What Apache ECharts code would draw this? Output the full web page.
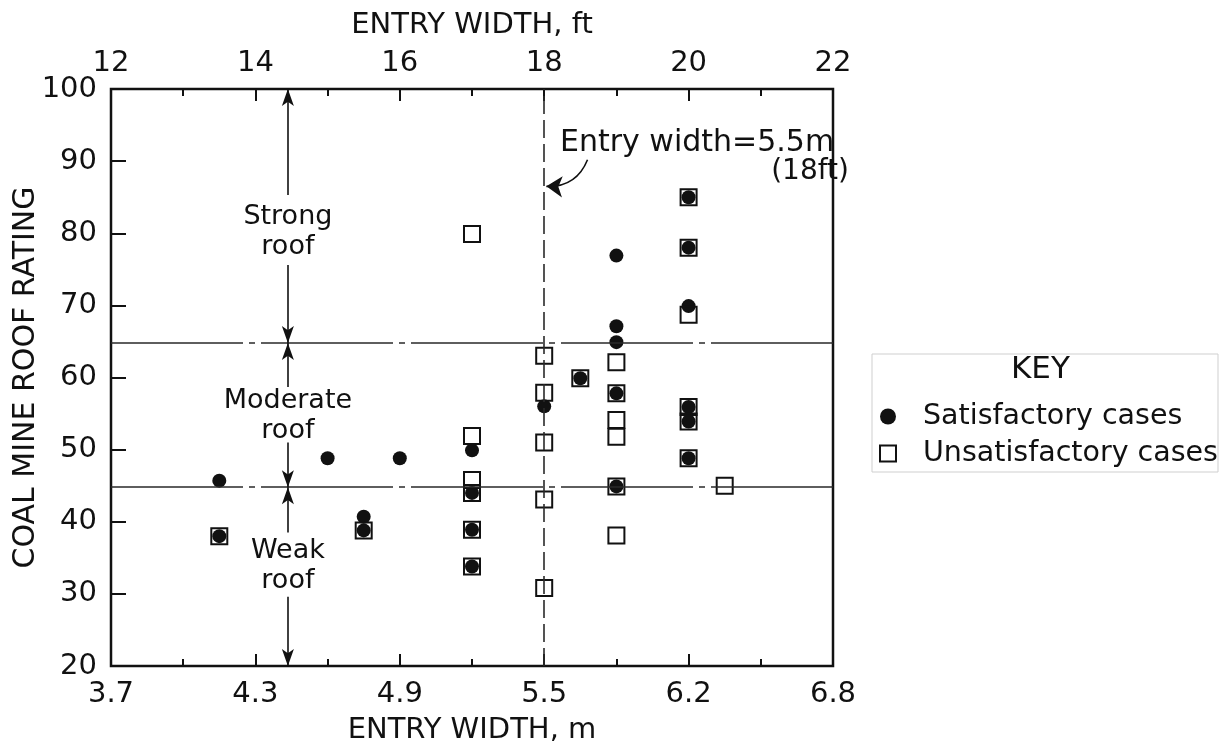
<!DOCTYPE html>
<html>
<head>
<meta charset="utf-8">
<script src="https://cdn.jsdelivr.net/npm/echarts@6/dist/echarts.min.js"></script>
<style>
  html, body { margin: 0; padding: 0; background: #fff; }
  #chart { width: 1225px; height: 753px; }
</style>
</head>
<body>
<div id="chart"></div>
<script>
// entry width is plotted on the ft scale; bottom axis shows the metric labels
const ftTicks = [12, 14, 16, 18, 20, 22]
const mTicks = ['3.7', '4.3', '4.9', '5.5', '6.2', '6.8']

// [entry width ft, roof rating]
const satisfactory = [
  [13.5, 45.7], [13.5, 38.0], [15, 48.8], [16, 48.8], [15.5, 40.7], [15.5, 38.8],
  [17, 49.9], [17, 44.0], [17, 38.9], [17, 33.8],
  [18, 56.0], [18.5, 59.9],
  [19, 76.9], [19, 67.1], [19, 64.9], [19, 57.8], [19, 44.9],
  [20, 85.0], [20, 78.0], [20, 69.9], [20, 55.9], [20, 53.9], [20, 48.8]
]
const unsatisfactory = [
  [13.5, 38.0], [15.5, 38.8],
  [17, 79.9], [17, 51.9], [17, 45.8], [17, 44.0], [17, 38.9], [17, 33.8],
  [18, 63.0], [18, 57.9], [18, 51.0], [18, 43.1], [18, 30.8],
  [18.5, 59.9],
  [19, 62.1], [19, 57.8], [19, 54.1], [19, 51.8], [19, 44.9], [19, 38.1],
  [20, 85.0], [20, 78.0], [20, 68.7], [20, 55.9], [20, 53.9], [20, 48.8],
  [20.5, 45.0]
]

// roof class boundaries and the 18 ft reference width
const strongLimit = 64.8
const weakLimit = 44.8
const refWidth = 18
const arrowX = 14.45

const FONT = 'DejaVu Sans'
const INK = '#111'

const chart = echarts.init(document.getElementById('chart'))

const arrowSeg = (from, to) => [
  { coord: [arrowX, from], symbol: 'none' },
  { coord: [arrowX, to], symbol: 'arrow', symbolSize: [9, 17] }
]

const xBase = {
  type: 'value',
  min: 12,
  max: 22,
  interval: 2,
  axisLine: { show: false },
  axisTick: { show: true, inside: true, length: 12, lineStyle: { color: INK, width: 2 } },
  minorTick: { show: true, splitNumber: 2, length: 7, lineStyle: { color: INK, width: 2 } },
  splitLine: { show: false },
  nameLocation: 'middle',
  nameTextStyle: { fontFamily: FONT, fontSize: 29, color: INK },
  axisLabel: { fontFamily: FONT, fontSize: 29, color: INK, margin: 12 }
}

chart.setOption({
  backgroundColor: '#fff',
  animation: false,
  grid: {
    left: 111,
    right: 392,
    top: 89,
    bottom: 87,
    outerBoundsMode: 'none',
    containLabel: false,
    show: true,
    borderColor: INK,
    borderWidth: 2.5
  },
  xAxis: [
    Object.assign({}, xBase, {
      position: 'bottom',
      name: 'ENTRY WIDTH, m',
      nameGap: 50,
      axisLabel: Object.assign({}, xBase.axisLabel, {
        margin: 14,
        formatter: v => {
          const i = ftTicks.indexOf(v)
          return i >= 0 ? mTicks[i] : ''
        }
      })
    }),
    Object.assign({}, xBase, {
      position: 'top',
      name: 'ENTRY WIDTH, ft',
      nameGap: 49,
      axisLabel: Object.assign({}, xBase.axisLabel, { margin: 11 })
    })
  ],
  yAxis: {
    type: 'value',
    min: 20,
    max: 100,
    interval: 10,
    name: 'COAL MINE ROOF RATING',
    nameLocation: 'middle',
    nameGap: 70,
    nameMoveOverlap: false,
    nameTextStyle: { fontFamily: FONT, fontSize: 30, color: INK },
    axisLine: { show: false },
    axisTick: { show: true, inside: true, length: 15, lineStyle: { color: INK, width: 2 } },
    splitLine: { show: false },
    axisLabel: { fontFamily: FONT, fontSize: 29, color: INK, margin: 14 }
  },
  legend: {
    orient: 'vertical',
    left: 874,
    top: 397,
    itemWidth: 16,
    itemHeight: 16,
    itemGap: 8,
    data: ['Satisfactory cases', 'Unsatisfactory cases'],
    textStyle: { fontFamily: FONT, fontSize: 28.5, color: INK, padding: [0, 0, 0, 22] }
  },
  graphic: [
    {
      type: 'rect',
      z: -1,
      shape: { x: 872, y: 354, width: 346, height: 118 },
      style: { fill: '#fff', stroke: '#cfcfcf', lineWidth: 1 }
    },
    {
      type: 'text',
      left: 1011,
      top: 354,
      style: { text: 'KEY', fontFamily: FONT, fontSize: 31, fill: INK }
    },
    {
      type: 'text',
      left: 560,
      top: 128,
      style: { text: 'Entry width=5.5m', fontFamily: FONT, fontSize: 30, fill: INK }
    },
    {
      type: 'text',
      right: 376,
      top: 158,
      style: { text: '(18ft)', fontFamily: FONT, fontSize: 28, fill: INK }
    }
  ],
  series: [
    {
      name: 'Satisfactory cases',
      type: 'scatter',
      data: satisfactory,
      symbol: 'circle',
      symbolSize: 14,
      itemStyle: { color: INK, opacity: 1 },
      z: 3,
      markLine: {
        silent: true,
        animation: false,
        symbol: 'none',
        label: { show: false },
        data: [
          [
            { coord: [12, strongLimit], lineStyle: { color: '#2a2a2a', width: 1.6, type: [132, 6, 6, 6] } },
            { coord: [22, strongLimit] }
          ],
          [
            { coord: [12, weakLimit], lineStyle: { color: '#2a2a2a', width: 1.6, type: [132, 6, 6, 6] } },
            { coord: [22, weakLimit] }
          ],
          [
            { coord: [refWidth, 20], lineStyle: { color: '#2a2a2a', width: 1.6, type: [18, 6] } },
            { coord: [refWidth, 100] }
          ]
        ]
      },
      markPoint: {
        silent: true,
        symbol: 'circle',
        symbolSize: 1,
        itemStyle: { color: 'rgba(0,0,0,0)' },
        label: {
          show: true,
          position: 'inside',
          formatter: '{b}',
          fontFamily: FONT,
          fontSize: 27,
          lineHeight: 30,
          color: INK
        },
        data: [
          { name: 'Strong\nroof', coord: [arrowX, 80.2] },
          { name: 'Moderate\nroof', coord: [arrowX, 54.7] },
          { name: 'Weak\nroof', coord: [arrowX, 33.8] }
        ]
      }
    },
    {
      name: 'Unsatisfactory cases',
      type: 'scatter',
      data: unsatisfactory,
      symbol: 'rect',
      symbolSize: 16,
      itemStyle: { color: 'rgba(255,255,255,0)', borderColor: INK, borderWidth: 2, opacity: 1 },
      z: 4,
      markLine: {
        silent: true,
        animation: false,
        label: { show: false },
        lineStyle: { color: INK, width: 1.6, type: 'solid' },
        data: [
          arrowSeg(85.3, 100),
          arrowSeg(75.6, strongLimit),
          arrowSeg(58.7, strongLimit),
          arrowSeg(51.0, weakLimit),
          arrowSeg(38.5, weakLimit),
          arrowSeg(29.6, 20)
        ]
      }
    },
    {
      // curved pointer from the label to the 18 ft line
      name: 'pointer',
      type: 'lines',
      coordinateSystem: 'cartesian2d',
      silent: true,
      symbol: ['none', 'arrow'],
      symbolSize: [9, 16],
      lineStyle: { color: INK, width: 1.6, opacity: 1, curveness: 0.35 },
      data: [{ coords: [[18.6, 90.2], [18.03, 86.5]] }]
    }
  ]
})
</script>
</body>
</html>
